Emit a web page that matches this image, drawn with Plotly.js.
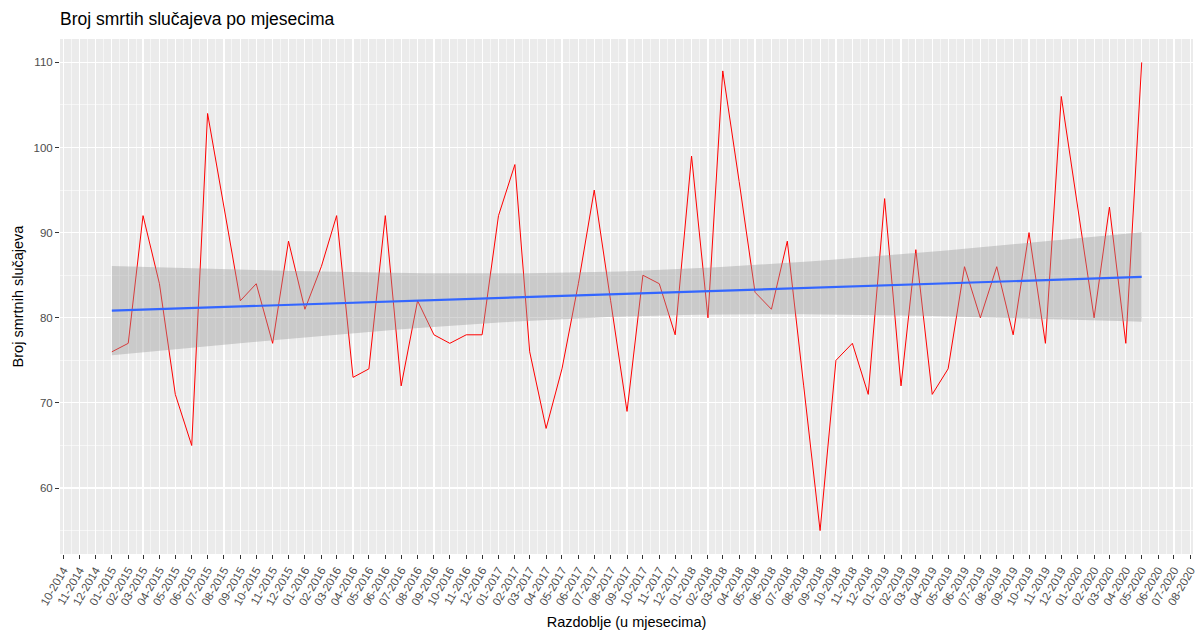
<!DOCTYPE html>
<html>
<head>
<meta charset="utf-8">
<script src="https://cdn.plot.ly/plotly-3.0.1.min.js"></script>
<style>
  html, body { margin: 0; padding: 0; background: #ffffff; }
  #chart { width: 1202px; height: 632px; }
</style>
</head>
<body>
<div id="chart"></div>
<script>
// Monthly periods (first of month), 01-2015 .. 05-2020
const months = [
  "2015-01-01","2015-02-01","2015-03-01","2015-04-01","2015-05-01","2015-06-01",
  "2015-07-01","2015-08-01","2015-09-01","2015-10-01","2015-11-01","2015-12-01",
  "2016-01-01","2016-02-01","2016-03-01","2016-04-01","2016-05-01","2016-06-01",
  "2016-07-01","2016-08-01","2016-09-01","2016-10-01","2016-11-01","2016-12-01",
  "2017-01-01","2017-02-01","2017-03-01","2017-04-01","2017-05-01","2017-06-01",
  "2017-07-01","2017-08-01","2017-09-01","2017-10-01","2017-11-01","2017-12-01",
  "2018-01-01","2018-02-01","2018-03-01","2018-04-01","2018-05-01","2018-06-01",
  "2018-07-01","2018-08-01","2018-09-01","2018-10-01","2018-11-01","2018-12-01",
  "2019-01-01","2019-02-01","2019-03-01","2019-04-01","2019-05-01","2019-06-01",
  "2019-07-01","2019-08-01","2019-09-01","2019-10-01","2019-11-01","2019-12-01",
  "2020-01-01","2020-02-01","2020-03-01","2020-04-01","2020-05-01"
];

// Number of deaths per month
const deaths = [
  76, 77, 92, 84, 71, 65, 104, 93, 82, 84, 77, 89,
  81, 86, 92, 73, 74, 92, 72, 82, 78, 77, 78, 78,
  92, 98, 76, 67, 74, 84, 95, 82, 69, 85, 84, 78,
  99, 80, 109, 96, 83, 81, 89, 72, 55, 75, 77, 71,
  94, 72, 88, 71, 74, 86, 80, 86, 78, 90, 77, 106,
  93, 80, 93, 77, 110
];

const yTicks = [60, 70, 80, 90, 100, 110];

// ---- linear smooth (lm) with 95% confidence band, as geom_smooth(method="lm") ----
const DAY = 86400000;
const toDays = s => Date.parse(s + "T00:00:00Z") / DAY;
const xs = months.map(toDays);
const n = xs.length;
const mx = xs.reduce((a, b) => a + b, 0) / n;
const my = deaths.reduce((a, b) => a + b, 0) / n;
let sxx = 0, sxy = 0;
for (let i = 0; i < n; i++) { sxx += (xs[i] - mx) ** 2; sxy += (xs[i] - mx) * (deaths[i] - my); }
const slope = sxy / sxx;
const icpt = my - slope * mx;
let sse = 0;
for (let i = 0; i < n; i++) sse += (deaths[i] - (icpt + slope * xs[i])) ** 2;
const sigma = Math.sqrt(sse / (n - 2));
const tq = 1.998; // t(0.975, df = 63)

const nEval = 80;
const fx = [], fy = [], lo = [], hi = [];
const x0 = xs[0], x1 = xs[n - 1];
for (let k = 0; k < nEval; k++) {
  const d = x0 + (x1 - x0) * k / (nEval - 1);
  const yhat = icpt + slope * d;
  const se = sigma * Math.sqrt(1 / n + (d - mx) ** 2 / sxx);
  fx.push(new Date(d * DAY).toISOString().slice(0, 19).replace("T", " "));
  fy.push(yhat);
  lo.push(yhat - tq * se);
  hi.push(yhat + tq * se);
}

const bandX = fx.concat(fx.slice().reverse());
const bandY = hi.concat(lo.slice().reverse());

const traces = [
  {
    x: months, y: deaths, type: "scatter", mode: "lines",
    line: { color: "#FF0000", width: 1 }, hoverinfo: "x+y", showlegend: false
  },
  {
    x: bandX, y: bandY, type: "scatter", mode: "lines", fill: "toself",
    fillcolor: "rgba(153,153,153,0.4)", line: { width: 0 }, hoverinfo: "skip", showlegend: false
  },
  {
    x: fx, y: fy, type: "scatter", mode: "lines",
    line: { color: "#3366FF", width: 2.2 }, hoverinfo: "skip", showlegend: false
  }
];

const layout = {
  width: 1202, height: 632,
  paper_bgcolor: "#FFFFFF",
  plot_bgcolor: "#EBEBEB",
  margin: { l: 60, r: 9, t: 39, b: 78 },
  font: { family: "Liberation Sans, Arial, sans-serif", color: "#000000" },
  title: {
    text: "Broj smrtih slučajeva po mjesecima",
    font: { size: 17.5, color: "#000000" },
    x: 60 / 1202, xanchor: "left", xref: "container",
    y: 1 - 19 / 632, yanchor: "middle", yref: "container"
  },
  showlegend: false,
  xaxis: {
    type: "date",
    range: ["2014-09-25", "2020-08-06"],
    tick0: "2014-10-01", dtick: "M1",
    tickformat: "%m-%Y",
    tickangle: -60,
    tickfont: { size: 11.5, color: "#4D4D4D" },
    ticks: "outside", ticklen: 4, tickcolor: "#333333", tickwidth: 1,
    showgrid: true, gridcolor: "#FFFFFF", gridwidth: 1.1,
    minor: { tick0: "2014-09-16", dtick: "M1", showgrid: true, gridcolor: "#FFFFFF", gridwidth: 0.55, ticks: "" },
    zeroline: false, showline: false,
    title: { text: "Razdoblje (u mjesecima)", font: { size: 14.5, color: "#000000" }, standoff: 10 },
    fixedrange: true
  },
  yaxis: {
    range: [52.25, 112.75],
    tickvals: yTicks, ticktext: yTicks.map(String),
    tickfont: { size: 11.5, color: "#4D4D4D" },
    ticks: "outside", ticklen: 4, tickcolor: "#333333", tickwidth: 1,
    showgrid: true, gridcolor: "#FFFFFF", gridwidth: 1.1,
    minor: { tickvals: [55, 65, 75, 85, 95, 105], showgrid: true, gridcolor: "#FFFFFF", gridwidth: 0.55, ticks: "" },
    zeroline: false, showline: false,
    title: { text: "Broj smrtnih slučajeva", font: { size: 14.5, color: "#000000" }, standoff: 6 },
    fixedrange: true
  }
};

Plotly.newPlot("chart", traces, layout, { displayModeBar: false, staticPlot: true });
</script>
</body>
</html>
